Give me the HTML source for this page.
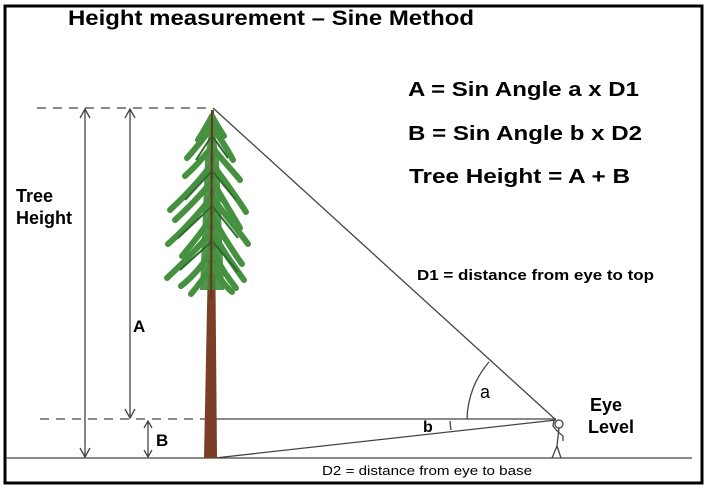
<!DOCTYPE html>
<html><head><meta charset="utf-8"><style>
html,body{margin:0;padding:0;background:#fff;}
svg{display:block;}
text{font-family:"Liberation Sans",Arial,sans-serif;font-weight:bold;fill:#000;}
</style></head><body>
<svg width="708" height="490" viewBox="0 0 708 490" xmlns="http://www.w3.org/2000/svg">
<rect x="0" y="0" width="708" height="490" fill="#fff"/>
<rect x="5" y="6" width="697" height="477" fill="none" stroke="#000" stroke-width="3"/>
<text x="68" y="25" font-size="21" textLength="406" lengthAdjust="spacingAndGlyphs">Height measurement – Sine Method</text>
<text x="408" y="96" font-size="20" textLength="231" lengthAdjust="spacingAndGlyphs">A = Sin Angle a x D1</text>
<text x="408" y="140" font-size="20" textLength="234" lengthAdjust="spacingAndGlyphs">B = Sin Angle b x D2</text>
<text x="409" y="183" font-size="20" textLength="221" lengthAdjust="spacingAndGlyphs">Tree Height = A + B</text>
<text x="417" y="280" font-size="15" textLength="237" lengthAdjust="spacingAndGlyphs">D1 = distance from eye to top</text>
<text x="322" y="475" font-size="13" style="font-weight:normal" textLength="210" lengthAdjust="spacingAndGlyphs">D2 = distance from eye to base</text>
<text x="16" y="202" font-size="18">Tree</text>
<text x="16" y="224" font-size="18">Height</text>
<text x="133" y="332" font-size="17">A</text>
<text x="156" y="446" font-size="17">B</text>
<text x="480" y="398" font-size="18" style="font-weight:normal">a</text>
<text x="423" y="432" font-size="16">b</text>
<text x="590" y="411" font-size="18">Eye</text>
<text x="588" y="433" font-size="18">Level</text>

<g stroke="#444" stroke-width="1.3" fill="none">
<line x1="37" y1="108" x2="213" y2="108" stroke-dasharray="9,7"/>
<line x1="40" y1="419" x2="208" y2="419" stroke-dasharray="9,7"/>
<line x1="6" y1="458" x2="692" y2="458"/>
<line x1="213" y1="419" x2="556" y2="419"/>
<line x1="213" y1="108" x2="556" y2="420"/>
<line x1="215" y1="458" x2="556" y2="420"/>
<line x1="85" y1="109" x2="85" y2="457"/>
<polyline points="80,118 85,109 90,118"/>
<polyline points="80,448 85,457 90,448"/>
<line x1="130" y1="109" x2="130" y2="418"/>
<polyline points="125,118 130,109 135,118"/>
<polyline points="125,409 130,418 135,409"/>
<line x1="148" y1="421" x2="148" y2="457"/>
<polyline points="144,428 148,421 152,428"/>
<polyline points="144,450 148,457 152,450"/>
<path d="M467,419 A90,90 0 0 1 489,362"/>
<path d="M451,430 A105,105 0 0 1 450,421"/>
<circle cx="559" cy="424" r="4"/>
<line x1="559" y1="428" x2="557" y2="446"/>
<line x1="557" y1="446" x2="552" y2="458"/>
<line x1="557" y1="446" x2="561" y2="458"/>
<polyline points="558,432 553,426 554,420"/>
<polyline points="558,432 563,436 563,441"/>
</g>

<polygon points="211,110 214,110 217,458 204,458" fill="#7a3f24"/>
<polygon points="212,112 205,160 200,290 224,290 219,160" fill="#3f8a3c" opacity="0.9"/>
<g stroke="#45913f" stroke-width="6" stroke-linecap="round" fill="none">
<path d="M212,116 C208,124 203,132 198,140"/><path d="M212,116 C216,124 220,130 224,136"/>
<path d="M211,128 C204,138 196,148 187,158"/><path d="M213,128 C220,138 228,150 233,160"/>
<path d="M211,148 C203,158 194,168 185,176"/><path d="M213,148 C222,160 232,170 240,180"/>
<path d="M211,165 C200,180 185,196 170,210"/><path d="M213,165 C224,180 236,196 246,212"/>
<path d="M211,182 C200,196 188,208 175,220"/><path d="M213,182 C222,198 232,214 240,228"/>
<path d="M211,198 C198,214 184,230 168,244"/><path d="M213,198 C224,214 238,230 248,244"/>
<path d="M211,218 C202,232 192,244 182,256"/><path d="M213,218 C222,234 232,250 242,264"/>
<path d="M211,232 C198,248 182,264 167,278"/><path d="M213,232 C222,250 234,266 244,280"/>
<path d="M211,252 C203,264 194,276 181,286"/><path d="M213,252 C220,266 228,278 236,288"/>
<path d="M211,266 C205,276 198,286 191,294"/><path d="M213,266 C218,276 225,286 232,292"/>
</g>
<g stroke="#2b6b2c" stroke-width="2" fill="none">
<path d="M211,137 L196,160"/><path d="M213,137 L228,158"/>
<path d="M211,172 L185,200"/><path d="M213,172 L236,200"/>
<path d="M211,207 L178,238"/><path d="M213,207 L238,238"/>
<path d="M211,242 L180,270"/><path d="M213,242 L238,272"/>
</g>
<line x1="212" y1="112" x2="211" y2="300" stroke="#6b3520" stroke-width="2"/>
</svg>
</body></html>
